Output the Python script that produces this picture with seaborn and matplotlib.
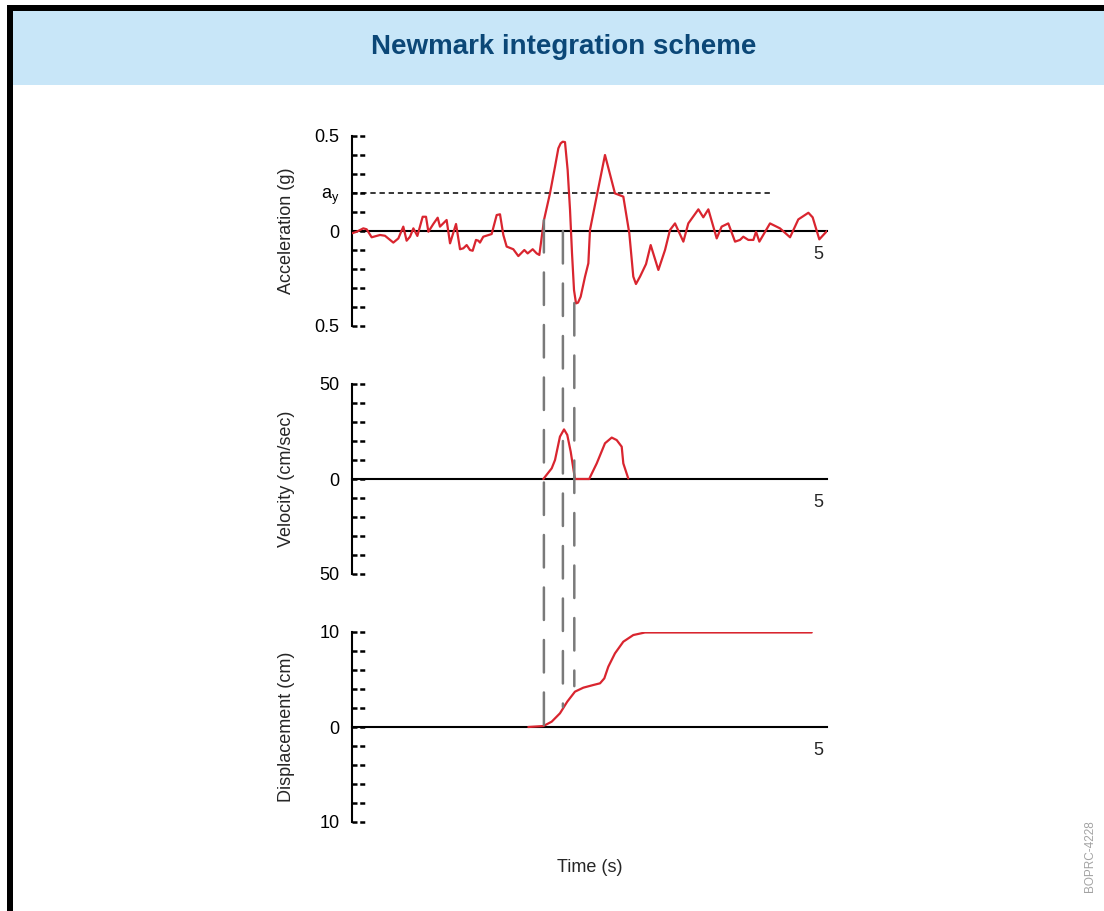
import matplotlib
matplotlib.use("Agg")
import numpy as np
import pandas as pd
import seaborn as sns
import matplotlib.pyplot as plt
from matplotlib.patches import Rectangle, ConnectionPatch
from matplotlib import font_manager as fm

# ---------------- data ----------------
acc_t = [0.0, 0.049, 0.119, 0.154, 0.207, 0.295, 0.347, 0.435, 0.488, 0.540, 0.575, 0.611,
         0.646, 0.688, 0.744, 0.779, 0.804, 0.856, 0.902, 0.926, 0.996, 1.032, 1.095, 1.137,
         1.172, 1.207, 1.242, 1.270, 1.305, 1.330, 1.347, 1.382, 1.470, 1.523, 1.558, 1.593,
         1.628, 1.698, 1.751, 1.814, 1.849, 1.902, 1.944, 1.972, 2.021, 2.084, 2.137, 2.172,
         2.196, 2.218, 2.242, 2.270, 2.295, 2.316, 2.337, 2.358, 2.379, 2.407, 2.453, 2.488,
         2.505, 2.575, 2.663, 2.768, 2.856, 2.919, 2.961, 2.989, 3.032, 3.095, 3.144, 3.225,
         3.295, 3.347, 3.400, 3.488, 3.540, 3.646, 3.698, 3.751, 3.839, 3.891, 3.961, 4.032,
         4.084, 4.119, 4.172, 4.225, 4.253, 4.288, 4.400, 4.505, 4.611, 4.698, 4.804, 4.849,
         4.919, 5.0]
acc_g = [-0.012, -0.004, 0.014, 0.009, -0.033, -0.021, -0.025, -0.061, -0.039, 0.023, -0.051,
         -0.030, 0.014, -0.026, 0.075, 0.075, -0.004, 0.037, 0.070, 0.023, 0.058, -0.065, 0.037,
         -0.096, -0.091, -0.074, -0.100, -0.104, -0.047, -0.051, -0.061, -0.030, -0.016, 0.084,
         0.088, -0.021, -0.082, -0.096, -0.132, -0.100, -0.118, -0.096, -0.118, -0.126, 0.058,
         0.198, 0.339, 0.435, 0.461, 0.470, 0.468, 0.321, 0.111, -0.118, -0.311, -0.381, -0.377,
         -0.346, -0.240, -0.170, 0.005, 0.181, 0.400, 0.198, 0.181, -0.012, -0.240, -0.279,
         -0.240, -0.174, -0.074, -0.205, -0.100, 0.005, 0.040, -0.056, 0.040, 0.114, 0.072,
         0.114, -0.039, 0.023, 0.040, -0.056, -0.047, -0.030, -0.047, -0.047, -0.004, -0.056,
         0.040, 0.014, -0.033, 0.061, 0.096, 0.072, -0.044, 0.0]

vel_t = [2.014, 2.102, 2.137, 2.189, 2.232, 2.266, 2.302, 2.347, 2.498, 2.505, 2.576, 2.663,
         2.734, 2.786, 2.839, 2.856, 2.908]
vel_cms = [0.0, 5.6, 10.0, 22.3, 26.1, 23.2, 14.4, 0.0, 0.0, 0.9, 8.2, 18.8, 21.8, 20.5,
           17.0, 8.2, 0.3]

disp_t = [1.856, 2.014, 2.102, 2.189, 2.266, 2.347, 2.435, 2.540, 2.611, 2.656, 2.698, 2.768,
          2.856, 2.961, 3.084, 4.839]
disp_cm = [0.0, 0.1, 0.56, 1.44, 2.67, 3.72, 4.14, 4.42, 4.6, 5.12, 6.35, 7.75, 8.98, 9.68,
           9.95, 9.95]

ay_level = 0.2
ay_span = [0.0, 4.4]

guide_t = [2.02, 2.22, 2.34]
guide_acc_top = [0.058, 0.0, -0.379]
guide_disp_bottom = [0.0, 2.1, 4.3]

acc_ticks = [-0.5, -0.4, -0.3, -0.2, -0.1, 0.0, 0.1, 0.2, 0.3, 0.4, 0.5]
acc_major = [-0.5, 0.0, 0.2, 0.5]
acc_labels = ["0.5", "0", r"a$_\mathregular{y}$", "0.5"]
vel_ticks = [-50, -40, -30, -20, -10, 0, 10, 20, 30, 40, 50]
vel_major = [-50, 0, 50]
vel_labels = ["50", "0", "50"]
disp_ticks = [-10, -8, -6, -4, -2, 0, 2, 4, 6, 8, 10]
disp_major = [-10, 0, 10]
disp_labels = ["10", "0", "10"]

title = "Newmark integration scheme"
xlabel = "Time (s)"
credit = "BOPRC-4228"

# ---------------- style ----------------
sns.set_style("white")
plt.rcParams["font.family"] = ["Liberation Sans", "DejaVu Sans"]
available = {f.name for f in fm.fontManager.ttflist}
title_family = ["Liberation Sans Narrow", "Liberation Sans"] if "Liberation Sans Narrow" in available else ["Liberation Sans"]
title_size = 23 if "Liberation Sans Narrow" in available else 20

RED = "#d9252f"
W, H = 1104, 911
fig = plt.figure(figsize=(W / 100, H / 100), dpi=100)
fig.patch.set_facecolor("white")


def fx(px):
    return px / W


def fy(py):
    return 1 - py / H


# background band and border
fig.add_artist(Rectangle((fx(13), fy(85)), 1 - fx(13), fy(11) - fy(85),
                         transform=fig.transFigure, facecolor="#c8e6f8", edgecolor="none", zorder=-5))
fig.add_artist(Rectangle((fx(7), 0), fx(13) - fx(7), fy(5), transform=fig.transFigure,
                         facecolor="black", edgecolor="none", zorder=-4))
fig.add_artist(Rectangle((fx(7), fy(11)), 1 - fx(7), fy(5) - fy(11), transform=fig.transFigure,
                         facecolor="black", edgecolor="none", zorder=-4))

fig.text(fx(564), fy(47), title, ha="center", va="center", fontsize=title_size,
         fontweight="bold", color="#0b4777", family=title_family)

ax_w = 475 / W
ax_h = 190 / H
ax1 = fig.add_axes([fx(352), fy(326), ax_w, ax_h])
ax2 = fig.add_axes([fx(352), fy(574), ax_w, ax_h])
ax3 = fig.add_axes([fx(352), fy(822), ax_w, ax_h])

sns.lineplot(x=acc_t, y=acc_g, ax=ax1, color=RED, lw=1.6, estimator=None, sort=False)
sns.lineplot(x=vel_t, y=vel_cms, ax=ax2, color=RED, lw=1.6, estimator=None, sort=False)
sns.lineplot(x=disp_t, y=disp_cm, ax=ax3, color=RED, lw=1.6, estimator=None, sort=False)

ax1.hlines(ay_level, ay_span[0], ay_span[1], colors="black", lw=1.1, linestyles=(0, (3.5, 2.5)))

panels = [
    (ax1, 0.5, acc_ticks, acc_major, acc_labels, "Acceleration (g)"),
    (ax2, 50, vel_ticks, vel_major, vel_labels, "Velocity (cm/sec)"),
    (ax3, 10, disp_ticks, disp_major, disp_labels, "Displacement (cm)"),
]
for ax, lim, ticks, major, labels, ylab in panels:
    ax.patch.set_visible(False)
    ax.set_xlim(0, 5)
    ax.set_ylim(-lim, lim)
    for s in ["top", "right"]:
        ax.spines[s].set_visible(False)
    ax.spines["bottom"].set_position(("data", 0))
    ax.spines["bottom"].set_linewidth(1.5)
    ax.spines["bottom"].set_color("black")
    ax.spines["bottom"].set_zorder(1)
    ax.spines["left"].set_linewidth(1.5)
    ax.spines["left"].set_color("black")
    ax.set_xticks([])
    ax.set_yticks(major, labels)
    ax.tick_params(axis="y", length=0, pad=9, labelsize=13, colors="black")
    ax.hlines(ticks, 0, 13 / 475, transform=ax.get_yaxis_transform(), colors="black",
              lw=1.8, linestyles=(0, (2.0, 1.1)), clip_on=False)
    ax.set_ylabel(ylab, fontsize=13, va="center")
    ax.yaxis.set_label_coords((287 - 352) / 475, 0.5)
    ax.set_xlabel("")
    ax.annotate("5", xy=(5, 0), xytext=(-6.5, -11), textcoords="offset points",
                ha="center", va="top", fontsize=13)
    for ln in ax.lines:
        ln.set_zorder(3)

for t, a_top, d_bot in zip(guide_t, guide_acc_top, guide_disp_bottom):
    con = ConnectionPatch(xyA=(t, a_top), coordsA=ax1.transData,
                          xyB=(t, d_bot), coordsB=ax3.transData,
                          color="#7a7a7a", lw=1.8, linestyle=(0, (13, 8)), zorder=2)
    fig.add_artist(con)

fig.text(fx(590), fy(867), xlabel, ha="center", va="center", fontsize=13)
fig.text(fx(1090), fy(856), credit, ha="center", va="center", rotation=90,
         fontsize=8.5, color="#a3a3a3")

fig.savefig("out.png", dpi=100)
